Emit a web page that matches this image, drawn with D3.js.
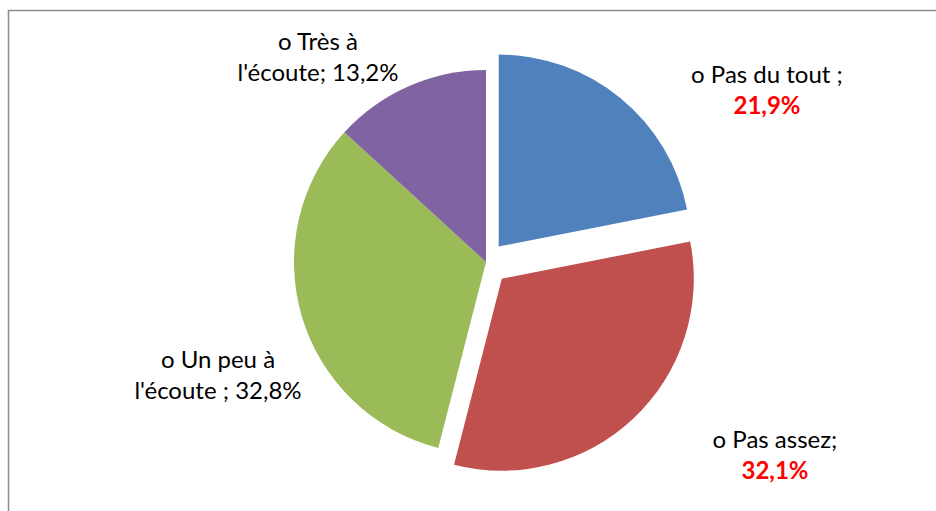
<!DOCTYPE html>
<html>
<head>
<meta charset="utf-8">
<script src="https://cdn.jsdelivr.net/npm/d3@7"></script>
<style>
  html, body { margin: 0; padding: 0; background: #fff; }
  svg { display: block; }
  text { font-family: Lato, "Open Sans", sans-serif; }
</style>
</head>
<body>
<svg id="chart" width="936" height="511"></svg>
<script>
// Survey answers, clockwise from 12 o'clock
const categories = ["o Pas du tout ;", "o Pas assez;", "o Un peu à l'écoute ;", "o Très à l'écoute;"];
const values = [21.9, 32.1, 32.8, 13.2];
const valueLabels = ["21,9%", "32,1%", "32,8%", "13,2%"];
const colors = ["#4F81BD", "#C0504D", "#9BBB59", "#8064A2"];
const explodeBy = [20, 23, 0, 0];

const svg = d3.select("#chart");
const W = 936, H = 511;

// chart area frame
svg.append("rect")
  .attr("x", 8.5).attr("y", 10.5)
  .attr("width", W + 20).attr("height", H + 20)
  .attr("fill", "none").attr("stroke", "#8c8c8c").attr("stroke-width", 1.5);

const cx = 486, cy = 262, r = 192;

const pie = d3.pie().sort(null).value(d => d)(values);
const arc = d3.arc().innerRadius(0).outerRadius(r);

const g = svg.append("g").attr("transform", `translate(${cx},${cy})`);
g.selectAll("path.slice")
  .data(pie)
  .join("path")
  .attr("class", "slice")
  .attr("fill", (d, i) => colors[i])
  .attr("transform", (d, i) => {
    const e = explodeBy[i];
    if (!e) return null;
    const a = (d.startAngle + d.endAngle) / 2;
    return `translate(${e * Math.sin(a)},${-e * Math.cos(a)})`;
  })
  .attr("d", arc);

// data labels, two lines each
const labelLines = [
  [{ t: "o Pas du tout ;" }, { t: valueLabels[0], red: true }],
  [{ t: "o Pas assez;" }, { t: valueLabels[1], red: true }],
  [{ t: "o Un peu à" }, { t: "l'écoute ; " + valueLabels[2] }],
  [{ t: "o Très à" }, { t: "l'écoute; " + valueLabels[3] }]
];
const labelPos = [[767, 83], [775, 448], [218, 368], [318, 50]];
const lineH = 31;

labelLines.forEach((lines, i) => {
  const t = svg.append("text")
    .attr("text-anchor", "middle")
    .attr("font-size", 24);
  lines.forEach((ln, k) => {
    t.append("tspan")
      .attr("x", labelPos[i][0])
      .attr("y", labelPos[i][1] + k * lineH)
      .attr("fill", ln.red ? "#FF0000" : "#000")
      .attr("font-weight", ln.red ? "bold" : "normal")
      .text(ln.t);
  });
});
</script>
</body>
</html>
